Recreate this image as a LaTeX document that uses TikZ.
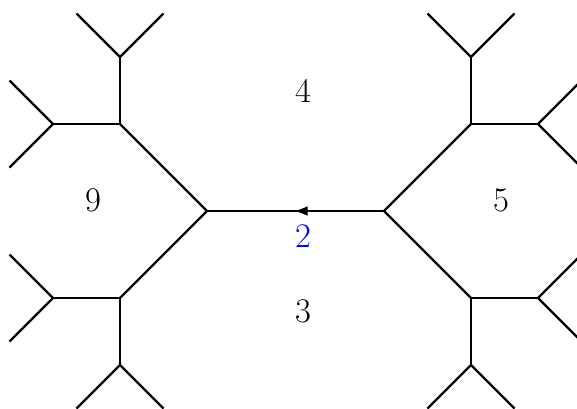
\documentclass[tikz,border=0pt]{standalone}
\usetikzlibrary{arrows.meta,decorations.markings}
\begin{document}
\begin{tikzpicture}[x=0.5pt,y=-0.5pt,line width=1.15pt,
    face/.style={font=\LARGE},
    midarrow/.style={postaction={decorate},decoration={markings,mark=at position 0.51 with {\arrow{Latex[length=7pt,width=5pt]}}}}]
        \useasboundingbox (0,0) rectangle (577,408);
        \clip (0,0) rectangle (577,408);
        % inner vertices
        \coordinate (L) at (207,211);
        \coordinate (R) at (384,211);
        \coordinate (a1) at (120,124);
        \coordinate (a2) at (120,57);
        \coordinate (a3) at (53,124);
        \coordinate (b1) at (120,298);
        \coordinate (b2) at (120,365);
        \coordinate (b3) at (53,298);
        \coordinate (c1) at (471,124);
        \coordinate (c2) at (471,57);
        \coordinate (c3) at (538,124);
        \coordinate (d1) at (471,298);
        \coordinate (d2) at (471,365);
        \coordinate (d3) at (538,298);
        % leaves
        \coordinate (a21) at (76.5,13.5);
        \coordinate (a22) at (163.5,13.5);
        \coordinate (a31) at (9.5,80.5);
        \coordinate (a32) at (9.5,167.5);
        \coordinate (b21) at (76.5,408.5);
        \coordinate (b22) at (163.5,408.5);
        \coordinate (b31) at (9.5,254.5);
        \coordinate (b32) at (9.5,341.5);
        \coordinate (c21) at (427.5,13.5);
        \coordinate (c22) at (514.5,13.5);
        \coordinate (c31) at (581.5,80.5);
        \coordinate (c32) at (581.5,167.5);
        \coordinate (d21) at (427.5,408.5);
        \coordinate (d22) at (514.5,408.5);
        \coordinate (d31) at (581.5,254.5);
        \coordinate (d32) at (581.5,341.5);

        \draw[midarrow] (R)--(L);
        \draw (L)--(a1);
        \draw (L)--(b1);
        \draw (R)--(c1);
        \draw (R)--(d1);
        \draw (a1)--(a2);
        \draw (a1)--(a3);
        \draw (b1)--(b2);
        \draw (b1)--(b3);
        \draw (c1)--(c2);
        \draw (c1)--(c3);
        \draw (d1)--(d2);
        \draw (d1)--(d3);
        \draw (a21)--(a2)--(a22);
        \draw (a31)--(a3)--(a32);
        \draw (b21)--(b2)--(b22);
        \draw (b31)--(b3)--(b32);
        \draw (c21)--(c2)--(c22);
        \draw (c31)--(c3)--(c32);
        \draw (d21)--(d2)--(d22);
        \draw (d31)--(d3)--(d32);

        \node[face] (f4) at (303,91) {4};
        \node[face] (f9) at (93,200) {9};
        \node[face] (f5) at (501,200) {5};
        \node[face] (f3) at (303,311) {3};
        \node[face,text=blue] (e2) at (303,236) {2};
    \end{tikzpicture}
\end{document}
